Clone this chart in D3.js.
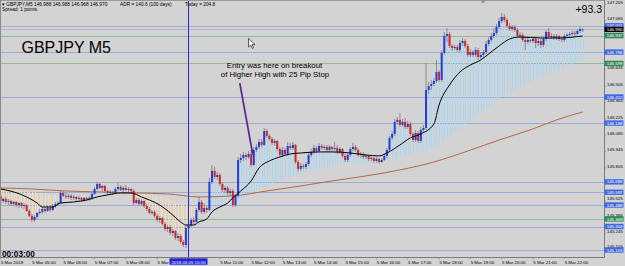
<!DOCTYPE html>
<html>
<head>
<meta charset="utf-8">
<script src="https://cdn.jsdelivr.net/npm/d3@7"></script>
<style>
  body { margin: 0; background: #d3d3d3; }
  svg { display: block; font-family: "Liberation Sans", Arial, sans-serif; }
</style>
</head>
<body>
<svg id="chart" width="625" height="266"></svg>
<script>
// GBPJPY M5, 5 Mar 2018, bars from 04:00 to 22:35. rows are [open, high, low, close]
const bars = [
[145.566,145.583,145.505,145.522],[145.522,145.549,145.505,145.540],[145.540,145.557,145.497,145.514],[145.514,145.540,145.488,145.522],
[145.522,145.531,145.480,145.497],[145.497,145.522,145.480,145.514],[145.514,145.522,145.471,145.488],[145.488,145.514,145.463,145.505],
[145.505,145.514,145.463,145.480],[145.480,145.505,145.454,145.488],[145.488,145.497,145.429,145.437],[145.437,145.454,145.386,145.395],
[145.395,145.412,145.343,145.360],[145.360,145.403,145.343,145.386],[145.386,145.429,145.369,145.420],[145.420,145.454,145.403,145.429],
[145.429,145.471,145.412,145.454],[145.454,145.471,145.420,145.437],[145.437,145.480,145.429,145.463],[145.463,145.488,145.429,145.446],
[145.446,145.497,145.437,145.480],[145.480,145.514,145.463,145.497],[145.497,145.522,145.480,145.505],[145.505,145.617,145.497,145.591],
[145.591,145.608,145.557,145.566],[145.566,145.591,145.540,145.557],[145.557,145.583,145.540,145.566],[145.566,145.583,145.531,145.549],
[145.549,145.574,145.531,145.557],[145.557,145.566,145.522,145.540],[145.540,145.566,145.522,145.549],[145.549,145.557,145.514,145.531],
[145.531,145.557,145.514,145.549],[145.549,145.557,145.522,145.540],[145.540,145.566,145.522,145.549],[145.549,145.591,145.531,145.583],
[145.583,145.642,145.574,145.625],[145.625,145.685,145.617,145.668],[145.668,145.676,145.625,145.634],[145.634,145.659,145.608,145.651],
[145.651,145.659,145.591,145.608],[145.608,145.617,145.574,145.591],[145.591,145.617,145.574,145.600],[145.600,145.608,145.574,145.591],
[145.591,145.642,145.583,145.625],[145.625,145.676,145.608,145.642],[145.642,145.659,145.608,145.617],[145.617,145.651,145.600,145.634],
[145.634,145.659,145.608,145.617],[145.617,145.642,145.600,145.625],[145.625,145.634,145.583,145.608],[145.608,145.625,145.488,145.505],
[145.505,145.549,145.497,145.531],[145.531,145.549,145.480,145.497],[145.497,145.540,145.480,145.522],[145.522,145.531,145.463,145.480],
[145.480,145.497,145.437,145.454],[145.454,145.471,145.412,145.420],[145.420,145.446,145.403,145.429],[145.429,145.446,145.377,145.395],
[145.395,145.412,145.343,145.360],[145.360,145.395,145.334,145.377],[145.377,145.386,145.309,145.326],[145.326,145.343,145.266,145.283],
[145.283,145.317,145.257,145.300],[145.300,145.317,145.232,145.249],[145.249,145.283,145.223,145.266],[145.266,145.274,145.189,145.206],
[145.206,145.249,145.180,145.223],[145.223,145.240,145.155,145.172],[145.172,145.189,145.129,145.146],[145.146,145.317,145.120,145.291],
[145.291,145.351,145.274,145.317],[145.317,145.377,145.300,145.360],[145.360,145.386,145.326,145.343],[145.343,145.463,145.334,145.446],
[145.446,145.557,145.429,145.514],[145.514,145.531,145.412,145.429],[145.429,145.505,145.412,145.463],[145.463,145.480,145.420,145.446],
[145.446,145.719,145.437,145.685],[145.685,145.831,145.668,145.780],[145.780,145.814,145.711,145.728],[145.728,145.771,145.702,145.745],
[145.745,145.762,145.651,145.668],[145.668,145.685,145.600,145.617],[145.617,145.651,145.591,145.634],[145.634,145.651,145.574,145.591],
[145.591,145.625,145.566,145.608],[145.608,145.625,145.471,145.488],[145.488,145.583,145.471,145.566],[145.566,145.899,145.549,145.873],
[145.873,145.925,145.848,145.890],[145.890,145.942,145.865,145.916],[145.916,145.933,145.873,145.899],[145.899,145.950,145.882,145.925],
[145.925,145.942,145.814,145.831],[145.831,145.985,145.822,145.959],[145.959,146.010,145.942,145.985],[145.985,146.053,145.967,146.027],
[146.027,146.053,145.985,146.002],[146.002,146.147,145.993,146.121],[146.121,146.139,146.062,146.079],[146.079,146.096,146.036,146.053],
[146.053,146.070,146.002,146.019],[146.019,146.053,145.993,146.036],[146.036,146.044,145.950,145.967],[145.967,145.985,145.899,145.916],
[145.916,145.985,145.899,145.959],[145.959,145.976,145.908,145.925],[145.925,146.027,145.908,145.993],[145.993,146.019,145.959,145.976],
[145.976,146.027,145.959,146.002],[146.002,146.010,145.839,145.856],[145.856,145.873,145.771,145.797],[145.797,145.848,145.780,145.822],
[145.822,145.839,145.797,145.814],[145.814,145.856,145.797,145.839],[145.839,145.942,145.822,145.916],[145.916,145.967,145.899,145.942],
[145.942,146.002,145.925,145.976],[145.976,145.993,145.933,145.950],[145.950,146.019,145.942,145.993],[145.993,146.010,145.959,145.976],
[145.976,146.002,145.959,145.985],[145.985,146.002,145.942,145.959],[145.959,146.002,145.942,145.985],[145.985,145.993,145.950,145.967],
[145.967,146.027,145.950,145.976],[145.976,146.002,145.925,145.942],[145.942,145.985,145.925,145.967],[145.967,145.976,145.890,145.908],
[145.908,145.925,145.856,145.873],[145.873,145.933,145.856,145.916],[145.916,145.985,145.899,145.967],[145.967,146.019,145.950,145.985],
[145.985,146.002,145.942,145.959],[145.959,145.976,145.899,145.916],[145.916,145.942,145.890,145.925],[145.925,145.942,145.882,145.899],
[145.899,145.925,145.882,145.908],[145.908,145.916,145.865,145.882],[145.882,145.908,145.865,145.890],[145.890,145.899,145.848,145.865],
[145.865,145.899,145.848,145.882],[145.882,145.890,145.839,145.856],[145.856,145.890,145.848,145.873],[145.873,145.925,145.865,145.908],
[145.908,145.976,145.890,145.959],[145.959,146.079,145.942,146.062],[146.062,146.121,146.044,146.096],[146.096,146.224,146.079,146.199],
[146.199,146.241,146.173,146.216],[146.216,146.275,146.156,146.173],[146.173,146.224,146.156,146.199],[146.199,146.233,146.139,146.156],
[146.156,146.207,146.139,146.181],[146.181,146.199,146.079,146.096],[146.096,146.113,146.027,146.044],[146.044,146.130,146.027,146.104],
[146.104,146.121,146.019,146.036],[146.036,146.156,146.019,146.130],[146.130,146.173,146.113,146.147],[146.147,146.703,146.130,146.472],
[146.472,146.541,146.438,146.506],[146.506,146.558,146.472,146.523],[146.523,146.575,146.506,146.549],[146.549,146.729,146.532,146.626],
[146.626,146.643,146.541,146.558],[146.558,146.814,146.541,146.789],[146.789,146.968,146.772,146.934],[146.934,147.002,146.883,146.951],
[146.951,146.968,146.831,146.849],[146.849,146.866,146.806,146.831],[146.831,146.857,146.814,146.840],[146.840,146.857,146.797,146.814],
[146.814,146.900,146.797,146.874],[146.874,146.917,146.849,146.891],[146.891,146.908,146.831,146.849],[146.849,146.866,146.754,146.772],
[146.772,146.823,146.754,146.797],[146.797,146.814,146.754,146.772],[146.772,146.840,146.754,146.814],[146.814,146.831,146.729,146.754],
[146.754,146.797,146.737,146.772],[146.772,146.814,146.746,146.797],[146.797,146.891,146.780,146.866],[146.866,146.925,146.849,146.900],
[146.900,146.960,146.883,146.934],[146.934,147.002,146.917,146.960],[146.960,147.037,146.943,147.011],[147.011,147.088,146.994,147.062],
[147.062,147.131,147.045,147.097],[147.097,147.122,147.054,147.071],[147.071,147.088,147.002,147.020],[147.020,147.045,146.977,146.994],
[146.994,147.028,146.977,147.011],[147.011,147.028,146.968,146.985],[146.985,147.002,146.917,146.934],[146.934,146.968,146.917,146.943],
[146.943,146.960,146.883,146.900],[146.900,146.917,146.814,146.883],[146.883,146.917,146.866,146.900],[146.900,146.908,146.874,146.891],
[146.891,146.925,146.874,146.908],[146.908,146.925,146.831,146.874],[146.874,146.908,146.849,146.891],[146.891,146.908,146.831,146.857],
[146.857,146.925,146.840,146.908],[146.908,146.985,146.891,146.968],[146.968,147.002,146.908,146.925],[146.925,146.960,146.908,146.934],
[146.934,146.951,146.900,146.917],[146.917,146.951,146.900,146.934],[146.934,146.943,146.891,146.908],[146.908,146.925,146.883,146.900],
[146.900,146.951,146.883,146.934],[146.934,146.960,146.917,146.943],[146.943,146.968,146.925,146.951],[146.951,146.977,146.934,146.960],
[146.960,146.977,146.934,146.951],[146.951,146.994,146.943,146.977],[146.977,147.011,146.960,146.994],[146.988,147.002,146.968,146.990]
];

// slow average the histogram is measured against (one value per bar)
const slowMA = [
145.617,145.615,145.613,145.612,145.611,145.609,145.607,145.606,145.605,145.603,145.601,145.600,
145.597,145.595,145.592,145.589,145.585,145.583,145.580,145.577,145.574,145.571,145.568,145.566,
145.566,145.566,145.566,145.566,145.566,145.566,145.566,145.566,145.566,145.566,145.566,145.566,
145.568,145.570,145.571,145.572,145.574,145.576,145.577,145.578,145.580,145.582,145.583,145.584,
145.586,145.588,145.589,145.590,145.589,145.587,145.583,145.581,145.577,145.575,145.571,145.566,
145.562,145.557,145.553,145.549,145.541,145.533,145.526,145.518,145.511,145.504,145.497,145.490,
145.483,145.479,145.476,145.475,145.472,145.473,145.475,145.477,145.479,145.483,145.487,145.492,
145.497,145.501,145.505,145.510,145.515,145.524,145.533,145.541,145.551,145.559,145.569,145.577,
145.588,145.599,145.610,145.621,145.632,145.643,145.654,145.665,145.675,145.684,145.693,145.702,
145.708,145.715,145.722,145.729,145.736,145.742,145.748,145.755,145.762,145.769,145.776,145.781,
145.786,145.790,145.795,145.799,145.803,145.808,145.813,145.817,145.821,145.826,145.831,145.832,
145.835,145.837,145.839,145.842,145.844,145.846,145.849,145.850,145.853,145.855,145.856,145.856,
145.856,145.856,145.859,145.864,145.868,145.873,145.879,145.885,145.892,145.899,145.903,145.908,
145.913,145.917,145.924,145.931,145.938,145.944,145.950,145.957,145.964,145.974,145.987,146.001,
146.015,146.027,146.041,146.054,146.068,146.085,146.103,146.120,146.139,146.157,146.174,146.192,
146.210,146.225,146.240,146.256,146.272,146.290,146.309,146.327,146.344,146.362,146.380,146.398,
146.412,146.426,146.439,146.452,146.464,146.476,146.487,146.498,146.509,146.520,146.531,146.542,
146.553,146.565,146.576,146.587,146.595,146.604,146.613,146.622,146.631,146.640,146.648,146.658,
146.667,146.676,146.684,146.693,146.701,146.710,146.718,146.727
];

// black fast moving average, read at these bars
const blackBars = [0,5,10,14,16,20,23,28,33,37,41,46,50,54,57,61,65,69,71,74,76,79,81,84,87,89,92,96,99,103,107,111,115,122,127,134,140,145,148,153,157,161,166,168,172,176,180,184,187,191,195,199,207,214,223];
const blackVals = [145.625,145.600,145.557,145.505,145.471,145.471,145.505,145.514,145.531,145.557,145.574,145.591,145.591,145.557,145.531,145.488,145.420,145.343,145.317,145.317,145.343,145.369,145.429,145.471,145.505,145.549,145.608,145.694,145.805,145.865,145.899,145.925,145.933,145.942,145.942,145.933,145.916,145.908,145.933,146.002,146.062,146.096,146.181,146.344,146.515,146.626,146.686,146.729,146.780,146.849,146.908,146.925,146.917,146.917,146.934];

// brown long moving average
const brownBars = [0,12,25,38,51,64,76,89,102,115,127,140,153,166,179,191,204,213,223];
const brownVals = [145.634,145.625,145.608,145.600,145.591,145.583,145.557,145.566,145.608,145.651,145.694,145.737,145.788,145.856,145.950,146.044,146.139,146.216,146.284];

// horizontal price levels and their label style
const levelPrices = [147.021,146.990,146.937,146.796,146.699,146.412,146.189,145.686,145.597,145.488,145.369,145.304,145.103];
const levelKinds  = ['blue','bid','green','blue','green','blue','blue','blue','blue','blue','green','blue','blue'];

const priceTicks = [145.105,145.245,145.385,145.525,145.665,145.805,145.945,146.085,146.225,146.365,146.505,146.645,146.785,146.925,147.065,147.205];
const hourLabels = ['5 Mar 2018','5 Mar 05:00','5 Mar 06:00','5 Mar 07:00','5 Mar 08:00','5 Mar 09:00','5 Mar 10:00','5 Mar 11:00','5 Mar 12:00','5 Mar 13:00','5 Mar 14:00','5 Mar 15:00','5 Mar 16:00','5 Mar 17:00','5 Mar 18:00','5 Mar 19:00','5 Mar 20:00','5 Mar 21:00','5 Mar 22:00'];
const barsPerHour = 12;
const markerBar = 72;          // vertical line, 2018.03.05 10:00
const entryBar = 97, entryPrice = 145.905;

const W = 625, H = 266, plotR = 604, plotB = 257.5;
const svg = d3.select('#chart');

const x = d3.scaleLinear().domain([0, 231]).range([0.6, 0.6 + 2.61 * 231]);
const y = d3.scaleLinear().domain([145.103, 146.412]).range([250, 97]);

const kindColor = { blue: '#4169e1', green: '#2e8b57', bid: '#000000' };
const tagH = 5.4;

svg.append('rect').attr('width', W).attr('height', H).attr('fill', '#d3d3d3');

// level lines
svg.append('g').selectAll('line')
  .data(levelPrices)
  .join('line')
  .attr('x1', 0).attr('x2', plotR)
  .attr('y1', d => Math.round(y(d)) + 0.5)
  .attr('y2', d => Math.round(y(d)) + 0.5)
  .attr('stroke', (d, i) => levelKinds[i] === 'bid' ? '#b8b8b8' : kindColor[levelKinds[i]])
  .attr('stroke-opacity', (d, i) => levelKinds[i] === 'bid' ? 1 : 0.38)
  .attr('stroke-width', 1);

// histogram of close against the slow average
svg.append('g').attr('shape-rendering', 'crispEdges').selectAll('line')
  .data(bars)
  .join('line')
  .attr('x1', (d, i) => Math.round(x(i)) + 0.5).attr('x2', (d, i) => Math.round(x(i)) + 0.5)
  .attr('y1', (d, i) => y(slowMA[i]))
  .attr('y2', d => y(d[3]))
  .attr('stroke', (d, i) => d[3] >= slowMA[i] ? '#a9d7f7' : '#f6dcb2')
  .attr('stroke-width', 1);

const line = d3.line().x(d => x(d[0])).y(d => y(d[1])).curve(d3.curveMonotoneX);

svg.append('path')
  .datum(brownBars.map((b, i) => [b, brownVals[i]]))
  .attr('d', line)
  .attr('fill', 'none')
  .attr('stroke', '#b46a46')
  .attr('stroke-width', 1);

// candles
const candles = svg.append('g');
candles.selectAll('line')
  .data(bars)
  .join('line')
  .attr('x1', (d, i) => x(i)).attr('x2', (d, i) => x(i))
  .attr('y1', d => y(d[1])).attr('y2', d => y(d[2]))
  .attr('stroke', '#7a7a7a')
  .attr('stroke-width', 0.8);

candles.selectAll('rect')
  .data(bars)
  .join('rect')
  .attr('x', (d, i) => x(i) - 1)
  .attr('width', 2)
  .attr('y', d => y(Math.max(d[0], d[3])))
  .attr('height', d => Math.max(0.8, Math.abs(y(d[0]) - y(d[3]))))
  .attr('fill', d => d[3] >= d[0] ? '#1f3fdc' : '#d42424');

svg.append('path')
  .datum(blackBars.map((b, i) => [b, blackVals[i]]))
  .attr('d', line)
  .attr('fill', 'none')
  .attr('stroke', '#000')
  .attr('stroke-width', 1);

// vertical marker
svg.append('line')
  .attr('x1', x(markerBar)).attr('x2', x(markerBar))
  .attr('y1', 0).attr('y2', plotB)
  .attr('stroke', '#2a2ae0').attr('stroke-width', 1);

// frame
svg.append('line').attr('x1', plotR + 0.5).attr('x2', plotR + 0.5).attr('y1', 0).attr('y2', plotB)
  .attr('stroke', '#7c7c7c');
svg.append('line').attr('x1', 0).attr('x2', plotR + 0.5).attr('y1', plotB).attr('y2', plotB)
  .attr('stroke', '#7c7c7c');
svg.append('line').attr('x1', 0).attr('x2', plotR).attr('y1', 0.5).attr('y2', 0.5)
  .attr('stroke', '#9a9a9a');
svg.append('line').attr('x1', 0.5).attr('x2', 0.5).attr('y1', 0).attr('y2', plotB)
  .attr('stroke', '#8a8a8a');

// price axis: tick labels that sit fully under a level tag are not shown
const tickBase = d => y(d) - 0.3;
const underTag = t => levelPrices.some(p =>
  tickBase(t) - 3.2 >= y(p) - tagH / 2 - 0.5 && tickBase(t) <= y(p) + tagH / 2 + 0.5);

const axisG = svg.append('g').attr('font-size', 4.4);
axisG.selectAll('text.tick')
  .data(priceTicks.filter(t => !underTag(t)))
  .join('text')
  .attr('class', 'tick')
  .attr('x', 607).attr('y', d => tickBase(d) - (d === priceTicks[0] ? 1.6 : 0))
  .attr('fill', '#000')
  .text(d => d.toFixed(3));
axisG.selectAll('line')
  .data(priceTicks)
  .join('line')
  .attr('x1', plotR).attr('x2', plotR + 2)
  .attr('y1', d => y(d)).attr('y2', d => y(d))
  .attr('stroke', '#7c7c7c').attr('stroke-width', 0.6);

const tags = axisG.selectAll('g.tag')
  .data(levelPrices)
  .join('g')
  .attr('class', 'tag')
  .attr('transform', d => `translate(${plotR + 0.5},${y(d)})`);
tags.append('rect')
  .attr('x', 0).attr('y', -tagH / 2).attr('width', 19).attr('height', tagH)
  .attr('fill', (d, i) => kindColor[levelKinds[i]]);
tags.append('text')
  .attr('x', 2.2).attr('y', 1.6)
  .attr('fill', '#fff')
  .text(d => d.toFixed(3));

// time axis; the crosshair date box covers part of it
const boxL = x(markerBar) - 19, boxW = 38;
svg.append('clipPath').attr('id', 'timeClip')
  .append('rect').attr('x', 0).attr('y', plotB).attr('width', boxL).attr('height', 10);

const timeG = svg.append('g').attr('font-size', 4.4);
timeG.selectAll('text')
  .data(hourLabels.map((t, i) => ({ t, bar: i * barsPerHour }))
    .filter(d => x(d.bar) + 22 <= boxL || x(d.bar) >= boxL + boxW))
  .join('text')
  .attr('x', d => x(d.bar) + 0.3)
  .attr('y', 264.3)
  .attr('fill', '#000')
  .attr('clip-path', d => x(d.bar) < boxL && x(d.bar) + 24 > boxL ? 'url(#timeClip)' : null)
  .text(d => d.t);
timeG.selectAll('line')
  .data(hourLabels)
  .join('line')
  .attr('x1', (d, i) => x(i * barsPerHour)).attr('x2', (d, i) => x(i * barsPerHour))
  .attr('y1', plotB).attr('y2', plotB + 2)
  .attr('stroke', '#7c7c7c').attr('stroke-width', 0.6);

// 09:00 label, cut by the date box
timeG.append('text')
  .attr('x', x(5 * barsPerHour) + 0.3).attr('y', 264.3)
  .attr('clip-path', 'url(#timeClip)')
  .text(hourLabels[5]);

timeG.append('rect')
  .attr('x', boxL).attr('y', 258.3)
  .attr('width', boxW).attr('height', 6.4)
  .attr('fill', '#2424d8');
timeG.append('text')
  .attr('x', x(markerBar)).attr('y', 263.8)
  .attr('text-anchor', 'middle')
  .attr('fill', '#fff')
  .text('2018.03.05 10:00');

// header
svg.append('text').attr('x', 2).attr('y', 6).attr('font-size', 4.8)
  .text('▾ GBPJPY,M5  146.988 146.988 146.968 146.970');
svg.append('text').attr('x', 2).attr('y', 10.6).attr('font-size', 4.8)
  .text('Spread: 1 points.');
svg.append('text').attr('x', 120).attr('y', 6).attr('font-size', 4.8)
  .text('ADR = 140.6  (100 days)');
svg.append('text').attr('x', 185).attr('y', 6).attr('font-size', 4.8)
  .text('Today = 204.8');

svg.append('text').attr('x', 602).attr('y', 13).attr('font-size', 10.5)
  .attr('text-anchor', 'end').text('+93.3');

svg.append('text').attr('x', 21.5).attr('y', 53).attr('font-size', 16)
  .text('GBPJPY M5');

svg.append('text').attr('x', 2).attr('y', 256.5).attr('font-size', 8.2)
  .attr('font-weight', 'bold').text('00:03:00');

// chart shift marker
svg.append('path').attr('d', 'M480.5,0.5 L485.5,0.5 L483,3.5 Z').attr('fill', '#8c8c8c');

// annotation
const note = svg.append('g').attr('font-size', 7.8).attr('text-anchor', 'middle');
note.append('text').attr('x', 274.5).attr('y', 67.8).text('Entry was here on breakout');
note.append('text').attr('x', 275).attr('y', 76.6).text('of Higher High with 25 Pip Stop');

const tipX = x(entryBar) - 0.5, tipY = y(entryPrice);
svg.append('line')
  .attr('x1', tipX - 13.5).attr('y1', 83)
  .attr('x2', tipX - 0.9).attr('y2', tipY - 4)
  .attr('stroke', '#5a2a8c').attr('stroke-width', 1.7);
svg.append('path')
  .attr('d', `M${tipX},${tipY} L${tipX - 2.9},${tipY - 6} L${tipX + 0.7},${tipY - 6.6} Z`)
  .attr('fill', '#5a2a8c');

// mouse pointer
svg.append('path')
  .attr('d', 'M248.5,38.5 L248.5,47 L250.6,45 L252.2,48.4 L253.5,47.8 L252,44.6 L255,44.6 Z')
  .attr('fill', '#fff').attr('stroke', '#000').attr('stroke-width', 0.6);
</script>
</body>
</html>
